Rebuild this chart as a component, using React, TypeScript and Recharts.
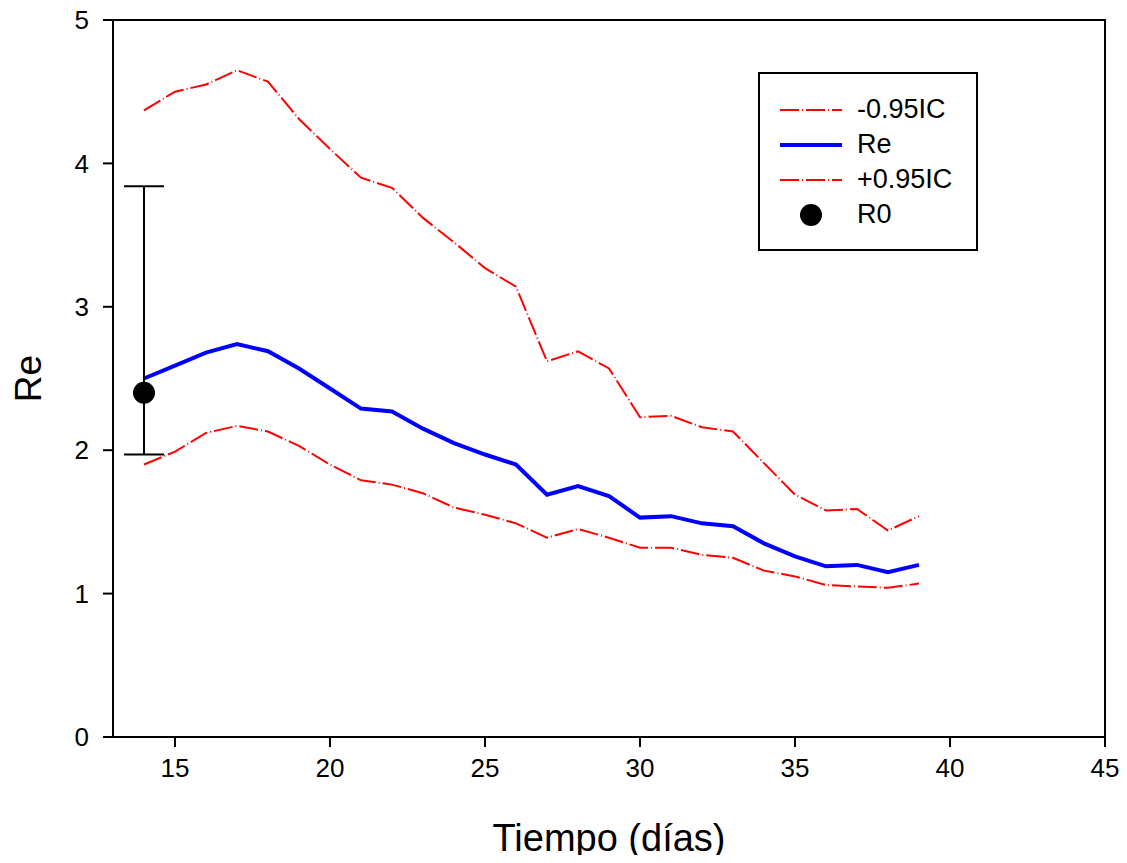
import React from 'react';
import {
  ComposedChart,
  Line,
  Scatter,
  ErrorBar,
  XAxis,
  YAxis,
  ReferenceArea,
} from 'recharts';

const days = [14, 15, 16, 17, 18, 19, 20, 21, 22, 23, 24, 25, 26, 27, 28, 29, 30, 31, 32, 33, 34, 35, 36, 37, 38, 39];
const reValues = [2.5, 2.59, 2.68, 2.74, 2.69, 2.57, 2.43, 2.29, 2.27, 2.15, 2.05, 1.97, 1.9, 1.69, 1.75, 1.68, 1.53, 1.54, 1.49, 1.47, 1.35, 1.26, 1.19, 1.2, 1.15, 1.2];
const upperValues = [4.37, 4.5, 4.55, 4.65, 4.57, 4.31, 4.1, 3.9, 3.83, 3.62, 3.45, 3.27, 3.14, 2.62, 2.69, 2.57, 2.23, 2.24, 2.16, 2.13, 1.91, 1.69, 1.58, 1.59, 1.44, 1.54];
const lowerValues = [1.9, 1.99, 2.12, 2.17, 2.13, 2.03, 1.9, 1.79, 1.76, 1.7, 1.6, 1.55, 1.49, 1.39, 1.45, 1.39, 1.32, 1.32, 1.27, 1.25, 1.16, 1.12, 1.06, 1.05, 1.04, 1.07];

const r0Day = 14;
const r0Value = 2.4;
const r0Low = 1.97;
const r0High = 3.84;

const xTicks = [15, 20, 25, 30, 35, 40, 45];
const yTicks = [0, 1, 2, 3, 4, 5];

const legendItems = [
  { label: '-0.95IC', kind: 'dash' },
  { label: 'Re', kind: 'solid' },
  { label: '+0.95IC', kind: 'dash' },
  { label: 'R0', kind: 'dot' },
];

const rows = days.map((d, i) => ({ day: d, re: reValues[i], upper: upperValues[i], lower: lowerValues[i] }));
const r0Rows = [{ day: r0Day, value: r0Value, err: [r0Value - r0Low, r0High - r0Value] }];

const FONT = '"Liberation Sans", Arial, sans-serif';
const DASH = '19 3 1 3';
const tickStyle = { fill: '#000', fontSize: 26, fontFamily: FONT };

function R0Dot(props: any) {
  return <circle cx={props.cx} cy={props.cy} r={11} fill="#000" />;
}

function LegendBox() {
  return (
    <div
      style={{
        position: 'absolute',
        left: 758,
        top: 72,
        width: 216,
        height: 175,
        border: '2px solid #000',
        background: '#fff',
        fontFamily: FONT,
        fontSize: 27,
      }}
    >
      {legendItems.map((it, i) => (
        <div key={it.label} style={{ position: 'absolute', left: 18, top: 18 + i * 35, height: 35, display: 'flex', alignItems: 'center' }}>
          <svg width={64} height={24} style={{ display: 'block' }}>
            {it.kind === 'dash' && <line x1={2} y1={12} x2={64} y2={12} stroke="#ff0000" strokeWidth={2} strokeDasharray={DASH} />}
            {it.kind === 'solid' && <line x1={2} y1={12} x2={64} y2={12} stroke="#0000ff" strokeWidth={4} />}
            {it.kind === 'dot' && <circle cx={33} cy={12} r={11} fill="#000" />}
          </svg>
          <span style={{ marginLeft: 15, lineHeight: '35px' }}>{it.label}</span>
        </div>
      ))}
    </div>
  );
}

export default function App() {
  return (
    <div style={{ position: 'relative', width: 1127, height: 863, margin: -8, background: '#fff' }}>
      <ComposedChart width={1127} height={863} data={rows} margin={{ top: 20, right: 22, left: 0, bottom: 0 }}>
        <XAxis
          dataKey="day"
          type="number"
          domain={[13, 45]}
          ticks={xTicks}
          allowDataOverflow
          height={126}
          tick={tickStyle}
          tickSize={10}
          tickMargin={12}
          axisLine={{ stroke: '#000', strokeWidth: 2 }}
          tickLine={{ stroke: '#000', strokeWidth: 2 }}
          label={{ value: 'Tiempo (días)', position: 'insideBottom', offset: 12, fill: '#000', fontSize: 38, fontFamily: FONT }}
        />
        <YAxis
          type="number"
          domain={[0, 5]}
          ticks={yTicks}
          allowDataOverflow
          width={113}
          tick={tickStyle}
          tickSize={10}
          tickMargin={14}
          axisLine={{ stroke: '#000', strokeWidth: 2 }}
          tickLine={{ stroke: '#000', strokeWidth: 2 }}
          label={{ value: 'Re', angle: -90, position: 'center', dx: -29, fill: '#000', fontSize: 37, fontFamily: FONT }}
        />
        <ReferenceArea x1={13} x2={45} y1={0} y2={5} fill="none" stroke="#000" strokeWidth={2} ifOverflow="visible" />
        <Line dataKey="upper" stroke="#ff0000" strokeWidth={2} strokeDasharray={DASH} dot={false} isAnimationActive={false} />
        <Line dataKey="re" stroke="#0000ff" strokeWidth={4} dot={false} isAnimationActive={false} />
        <Line dataKey="lower" stroke="#ff0000" strokeWidth={2} strokeDasharray={DASH} dot={false} isAnimationActive={false} />
        <Scatter data={r0Rows} dataKey="value" shape={<R0Dot />} isAnimationActive={false}>
          <ErrorBar dataKey="err" direction="y" width={20} stroke="#000" strokeWidth={2} />
        </Scatter>
      </ComposedChart>
      <LegendBox />
    </div>
  );
}
